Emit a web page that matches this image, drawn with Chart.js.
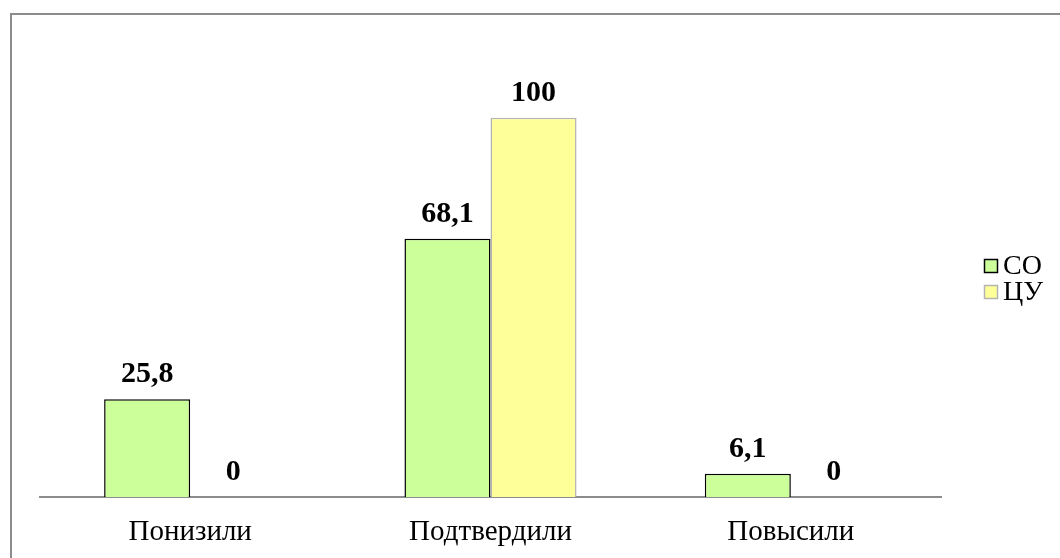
<!DOCTYPE html>
<html>
<head>
<meta charset="utf-8">
<script src="https://cdn.jsdelivr.net/npm/chart.js@4"></script>
<style>
  body { margin: 0; background: #fff; }
  #wrap { position: relative; width: 1060px; height: 558px; overflow: hidden; }
  #frame { position: absolute; left: 10px; top: 13px; right: -10px; bottom: -10px;
           border-left: 2px solid #8c8c8c; border-top: 2px solid #8c8c8c; }
  canvas { display: block; }
</style>
</head>
<body>
<div id="wrap">
  <div id="frame"></div>
  <canvas id="chart" width="1060" height="558"></canvas>
</div>
<script>
// данные
const categories = ['Понизили', 'Подтвердили', 'Повысили'];
const seriesNames = ['СО', 'ЦУ'];
const valuesCO = [25.8, 68.1, 6.1];
const valuesCU = [0, 100, 0];

const fills = ['#CCFF99', '#FFFF99'];
const borders = ['#000000', '#b4b4b4'];

// подписи значений над столбцами
const valueLabels = {
    id: 'valueLabels',
    afterDatasetsDraw(chart) {
        const c = chart.ctx;
        c.save();
        c.font = 'bold 30px "Liberation Serif"';
        c.fillStyle = '#000';
        c.textAlign = 'center';
        c.textBaseline = 'alphabetic';
        chart.data.datasets.forEach((ds, i) => {
            chart.getDatasetMeta(i).data.forEach((bar, j) => {
                const txt = String(ds.data[j]).replace('.', ',');
                c.fillText(txt, bar.x, bar.y - 17);
            });
        });
        c.restore();
    }
};

// легенда справа
const sideLegend = {
    id: 'sideLegend',
    afterDraw(chart) {
        const c = chart.ctx;
        c.save();
        c.font = '28px "Liberation Serif"';
        c.textBaseline = 'middle';
        chart.data.datasets.forEach((ds, i) => {
            const y = 266 + i * 26;
            c.fillStyle = ds.backgroundColor;
            c.fillRect(984, y - 7, 14, 14);
            c.strokeStyle = ds.borderColor;
            c.lineWidth = 1.5;
            c.strokeRect(984.5, y - 6.5, 13, 13);
            c.fillStyle = '#000';
            c.fillText(ds.label, 1003, y + 1);
        });
        c.restore();
    }
};

new Chart(document.getElementById('chart'), {
    type: 'bar',
    data: {
        labels: categories,
        datasets: [
            { label: seriesNames[0], data: valuesCO, backgroundColor: fills[0], borderColor: borders[0], borderWidth: 1.5 },
            { label: seriesNames[1], data: valuesCU, backgroundColor: fills[1], borderColor: borders[1], borderWidth: 1.5 }
        ]
    },
    options: {
        responsive: false,
        animation: false,
        categoryPercentage: 0.573,
        barPercentage: 1,
        layout: { padding: { left: 40, right: 119, top: 42, bottom: 0 } },
        scales: {
            x: {
                grid: { display: false, drawTicks: false },
                border: { display: true, color: '#8c8c8c', width: 2 },
                ticks: { color: '#000', padding: 18, font: { family: '"Liberation Serif"', size: 29 } },
                afterFit(scale) { scale.height = 61; }
            },
            y: { display: false, min: 0, max: 120 }
        },
        plugins: { legend: { display: false }, tooltip: { enabled: false } }
    },
    plugins: [valueLabels, sideLegend]
});
</script>
</body>
</html>
